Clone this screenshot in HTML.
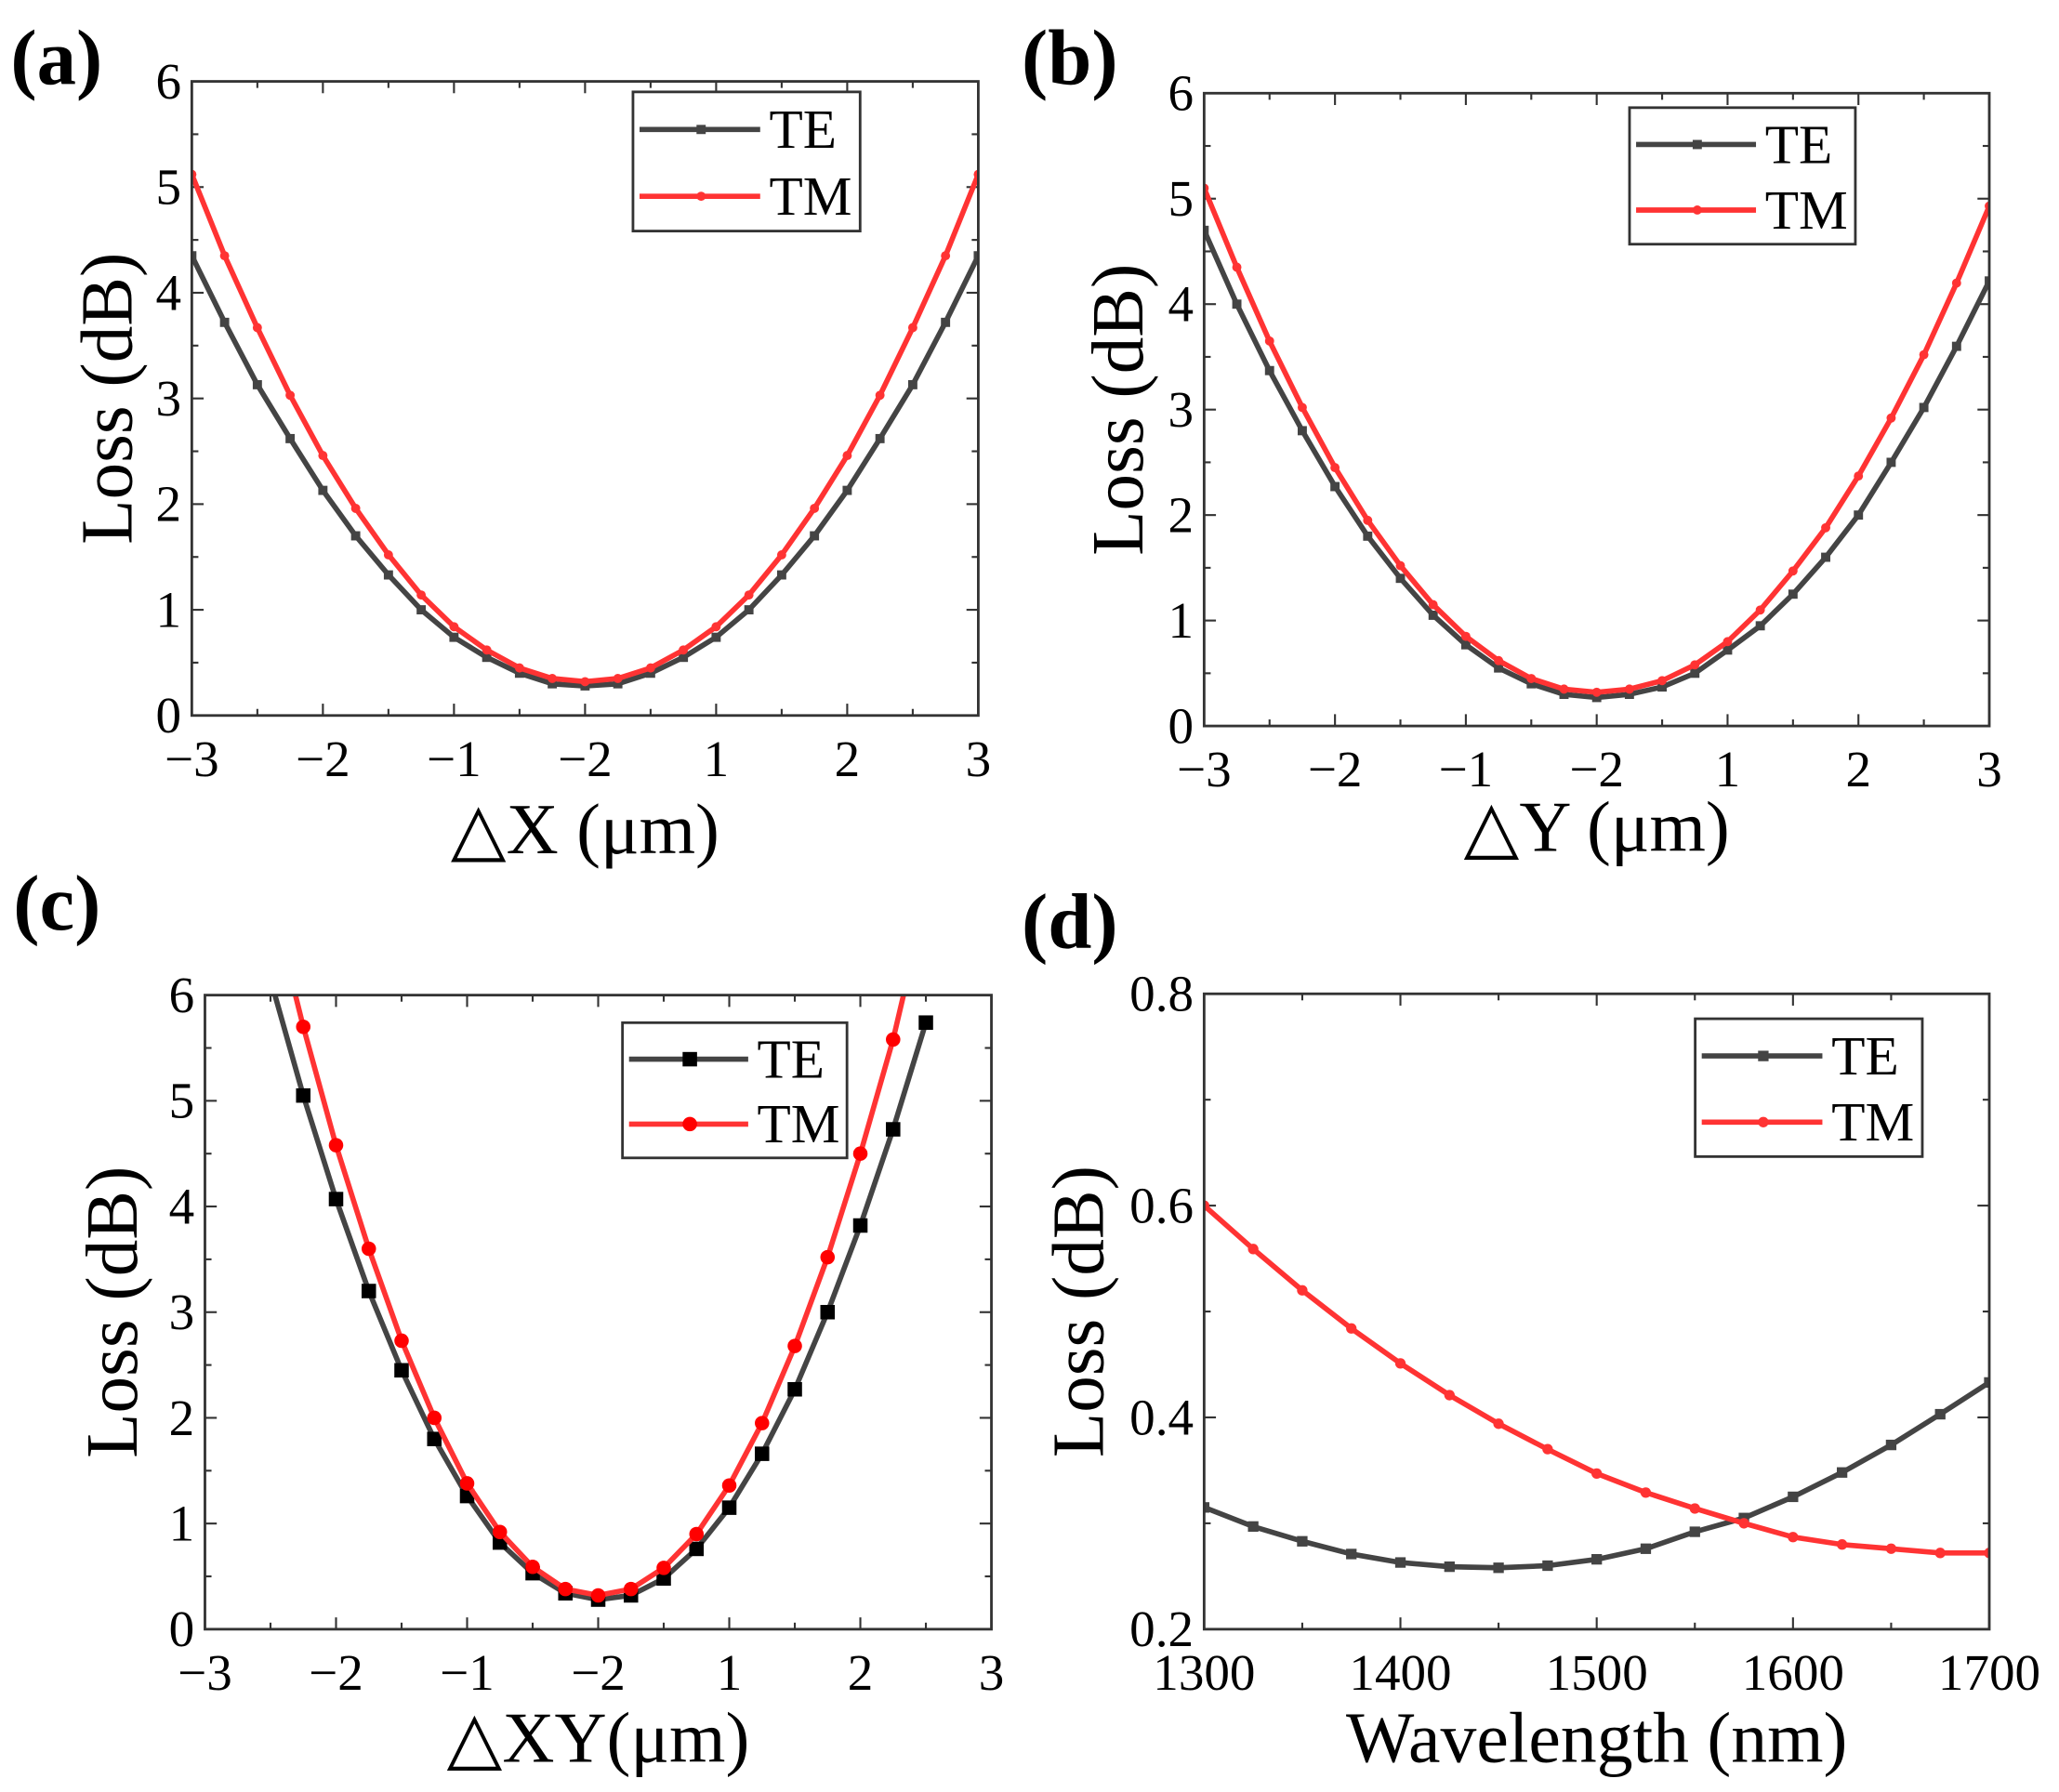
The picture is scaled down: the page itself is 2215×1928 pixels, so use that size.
<!DOCTYPE html>
<html><head><meta charset="utf-8"><style>
html,body{margin:0;padding:0;background:#fff}
svg{display:block}
text{font-family:"Liberation Serif",serif;fill:#000}
</style></head><body>
<svg id="fig" width="2215" height="1928" viewBox="0 0 1568 1365" xmlns="http://www.w3.org/2000/svg"></svg>
<script>
// ---- data ----
const xsA = [-3,-2.75,-2.5,-2.25,-2,-1.75,-1.5,-1.25,-1,-0.75,-0.5,-0.25,0,0.25,0.5,0.75,1,1.25,1.5,1.75,2,2.25,2.5,2.75,3];
const teA = [4.35,3.72,3.13,2.62,2.13,1.70,1.33,1.00,0.74,0.55,0.40,0.30,0.28,0.30,0.40,0.55,0.74,1.00,1.33,1.70,2.13,2.62,3.13,3.72,4.35];
const tmA = [5.12,4.35,3.67,3.03,2.46,1.96,1.52,1.14,0.84,0.62,0.45,0.35,0.32,0.35,0.45,0.62,0.84,1.14,1.52,1.96,2.46,3.03,3.67,4.35,5.12];
const teB = [4.70,4.00,3.37,2.80,2.27,1.80,1.40,1.05,0.77,0.55,0.40,0.30,0.27,0.30,0.37,0.50,0.72,0.95,1.25,1.60,2.00,2.50,3.02,3.60,4.22];
const tmB = [5.10,4.35,3.65,3.02,2.45,1.95,1.52,1.15,0.85,0.62,0.45,0.35,0.32,0.35,0.43,0.58,0.80,1.10,1.47,1.88,2.37,2.92,3.52,4.20,4.93];
const xsCte = [-2.5,-2.25,-2,-1.75,-1.5,-1.25,-1,-0.75,-0.5,-0.25,0,0.25,0.5,0.75,1,1.25,1.5,1.75,2,2.25,2.5];
const teC = [6.15,5.05,4.07,3.20,2.45,1.80,1.26,0.82,0.53,0.34,0.28,0.32,0.48,0.76,1.15,1.66,2.27,3.00,3.82,4.73,5.74];
const xsCtm = [-2.5,-2.25,-2,-1.75,-1.5,-1.25,-1,-0.75,-0.5,-0.25,0,0.25,0.5,0.75,1,1.25,1.5,1.75,2,2.25,2.5];
const tmC = [6.95,5.70,4.58,3.60,2.73,2.00,1.38,0.92,0.59,0.38,0.32,0.38,0.58,0.90,1.36,1.95,2.68,3.52,4.50,5.58,6.90];
const xsD = [1300,1325,1350,1375,1400,1425,1450,1475,1500,1525,1550,1575,1600,1625,1650,1675,1700];
const teD = [0.315,0.297,0.283,0.271,0.263,0.259,0.258,0.260,0.266,0.276,0.292,0.305,0.325,0.348,0.374,0.403,0.433];
const tmD = [0.600,0.559,0.520,0.484,0.451,0.421,0.394,0.370,0.347,0.329,0.314,0.300,0.287,0.280,0.276,0.272,0.272];
const xTicksABC = ["−3","−2","−1","−2","1","2","3"];
const yTicksABC = ["0","1","2","3","4","5","6"];
const xTicksD = ["1300","1400","1500","1600","1700"];
const yTicksD = ["0.2","0.4","0.6","0.8"];

const NS="http://www.w3.org/2000/svg";
const svg=document.getElementById('fig');
function mk(tag,attrs,parent){const e=document.createElementNS(NS,tag);for(const k in attrs)e.setAttribute(k,attrs[k]);(parent||svg).appendChild(e);return e;}
function txt(s,attrs,parent){const e=mk('text',attrs,parent);e.textContent=s;return e;}

function panel(cfg){
  const g=mk('g',{});
  
  
  const {L,R,T,B,x0,x1,y0,y1}=cfg;
  const sx=v=>L+(v-x0)/(x1-x0)*(R-L);
  const sy=v=>B-(v-y0)/(y1-y0)*(B-T);
  const cid='clip-'+cfg.name;
  const cp=mk('clipPath',{id:cid},g);mk('rect',{x:L,y:T,width:R-L,height:B-T},cp);
  cfg.xt.forEach((lab,i)=>{
    const v=cfg.xtv[i], X=sx(v);
    mk('line',{x1:X,y1:B,x2:X,y2:B-9,stroke:'#333','stroke-width':1.5},g);
    mk('line',{x1:X,y1:T,x2:X,y2:T+9,stroke:'#333','stroke-width':1.5},g);
    const t=txt(lab,{x:X,y:B+46,'font-size':39,'text-anchor':'middle'},g);
    
    
  });
  for(let i=0;i<cfg.xtv.length-1;i++){const X=sx((cfg.xtv[i]+cfg.xtv[i+1])/2);
    mk('line',{x1:X,y1:B,x2:X,y2:B-5,stroke:'#333','stroke-width':1.5},g);
    mk('line',{x1:X,y1:T,x2:X,y2:T+5,stroke:'#333','stroke-width':1.5},g);}
  cfg.yt.forEach((lab,i)=>{
    const v=cfg.ytv[i], Y=sy(v);
    mk('line',{x1:L,y1:Y,x2:L+9,y2:Y,stroke:'#333','stroke-width':1.5},g);
    mk('line',{x1:R,y1:Y,x2:R-9,y2:Y,stroke:'#333','stroke-width':1.5},g);
    const t=txt(lab,{x:L-8,y:Y+13,'font-size':39,'text-anchor':'end'},g);
    
    
  });
  for(let i=0;i<cfg.ytv.length-1;i++){const Y=sy((cfg.ytv[i]+cfg.ytv[i+1])/2);
    mk('line',{x1:L,y1:Y,x2:L+5,y2:Y,stroke:'#333','stroke-width':1.5},g);
    mk('line',{x1:R,y1:Y,x2:R-5,y2:Y,stroke:'#333','stroke-width':1.5},g);}
  cfg.series.forEach(s=>{
    const sg=mk('g',{'clip-path':'url(#'+cid+')'},g);
    
    
    const pts=s.xs.map((x,i)=>sx(x).toFixed(1)+','+sy(s.ys[i]).toFixed(1)).join(' ');
    mk('polyline',{points:pts,fill:'none',stroke:s.color,'stroke-width':4,'stroke-linejoin':'round'},sg);
    s.xs.forEach((x,i)=>{
      const X=sx(x),Y=sy(s.ys[i]);
      if(s.skipMarker && s.skipMarker(x)) return;
      let m;
      if(s.marker==='sq') m=mk('rect',{x:X-s.ms,y:Y-s.ms,width:2*s.ms,height:2*s.ms,fill:s.mcolor},sg);
      else m=mk('circle',{cx:X,cy:Y,r:s.ms,fill:s.mcolor},sg);
      
      
    });
  });
  mk('rect',{x:L,y:T,width:R-L,height:B-T,fill:'none',stroke:'#333','stroke-width':2},g);
  const lg=mk('g',{},g);
  
  
  const [lx,ly,lw,lh]=cfg.leg;
  mk('rect',{x:lx,y:ly,width:lw,height:lh,fill:'#fff',stroke:'#333','stroke-width':2},lg);
  cfg.series.forEach((s,i)=>{
    const Y=ly+lh*(0.27+0.48*i);
    const e=mk('g',{},lg);
    
    
    mk('line',{x1:lx+5,y1:Y,x2:lx+lw*0.56,y2:Y,stroke:s.color,'stroke-width':4},e);
    const cx=lx+lw*0.3;
    if(s.marker==='sq') mk('rect',{x:cx-s.ms,y:Y-s.ms,width:2*s.ms,height:2*s.ms,fill:s.mcolor},e);
    else mk('circle',{cx:cx,cy:Y,r:s.ms,fill:s.mcolor},e);
    txt(s.label,{x:lx+lw*0.6,y:Y+14,'font-size':42},e);
  });
  const xt=txt(cfg.xtitle,{x:(L+R)/2,y:cfg.xty,'font-size':55,'text-anchor':'middle'},g);
  
  
  const yx=cfg.ytx, yy=(T+B)/2;
  const yt=txt('Loss (dB)',{x:yx,y:yy,'font-size':56,'text-anchor':'middle',transform:`rotate(-90 ${yx} ${yy})`},g);
  
  
  const pl=txt(cfg.label,{x:cfg.lp[0],y:cfg.lp[1],'font-size':60,'font-weight':'bold'},g);
  
  
}
const xtvABC=[-3,-2,-1,0,1,2,3], ytvABC=[0,1,2,3,4,5,6];
const GR='#444', RD='#ff3333';
panel({name:'panel-a',label:'(a)',lp:[8,64],L:146,R:745,T:62,B:545,x0:-3,x1:3,y0:0,y1:6,
  xt:xTicksABC,xtv:xtvABC,yt:yTicksABC,ytv:ytvABC,leg:[482,70,173,106],xtitle:'△X (μm)',xty:650,ytx:100,
  series:[{name:'series-te',label:'TE',xs:xsA,ys:teA,color:GR,mcolor:GR,marker:'sq',ms:3.5},
          {name:'series-tm',label:'TM',xs:xsA,ys:tmA,color:RD,mcolor:RD,marker:'ci',ms:3.5}]});
panel({name:'panel-b',label:'(b)',lp:[778,64],L:917,R:1515,T:71,B:553,x0:-3,x1:3,y0:0,y1:6,
  xt:xTicksABC,xtv:xtvABC,yt:yTicksABC,ytv:ytvABC,leg:[1241,82,172,104],xtitle:'△Y (μm)',xty:648,ytx:870,
  series:[{name:'series-te',label:'TE',xs:xsA,ys:teB,color:GR,mcolor:GR,marker:'sq',ms:3.5},
          {name:'series-tm',label:'TM',xs:xsA,ys:tmB,color:RD,mcolor:RD,marker:'ci',ms:3.5}]});
panel({name:'panel-c',label:'(c)',lp:[10,708],L:156,R:755,T:758,B:1241,x0:-3,x1:3,y0:0,y1:6,
  xt:xTicksABC,xtv:xtvABC,yt:yTicksABC,ytv:ytvABC,leg:[474,779,171,103],xtitle:'△XY(μm)',xty:1342,ytx:104,
  series:[{name:'series-te',label:'TE',xs:xsCte,ys:teC,color:GR,mcolor:'#000',marker:'sq',ms:5.5,skipMarker:x=>x<-2.3},
          {name:'series-tm',label:'TM',xs:xsCtm,ys:tmC,color:RD,mcolor:'#ff0000',marker:'ci',ms:5.5}]});
panel({name:'panel-d',label:'(d)',lp:[778,722],L:917,R:1515,T:757,B:1241,x0:1300,x1:1700,y0:0.2,y1:0.8,
  xt:xTicksD,xtv:[1300,1400,1500,1600,1700],yt:yTicksD,ytv:[0.2,0.4,0.6,0.8],leg:[1291,776,173,105],xtitle:'Wavelength (nm)',xty:1342,ytx:840,
  series:[{name:'series-te',label:'TE',xs:xsD,ys:teD,color:GR,mcolor:GR,marker:'sq',ms:4},
          {name:'series-tm',label:'TM',xs:xsD,ys:tmD,color:RD,mcolor:RD,marker:'ci',ms:4}]});
</script>
</body></html>
